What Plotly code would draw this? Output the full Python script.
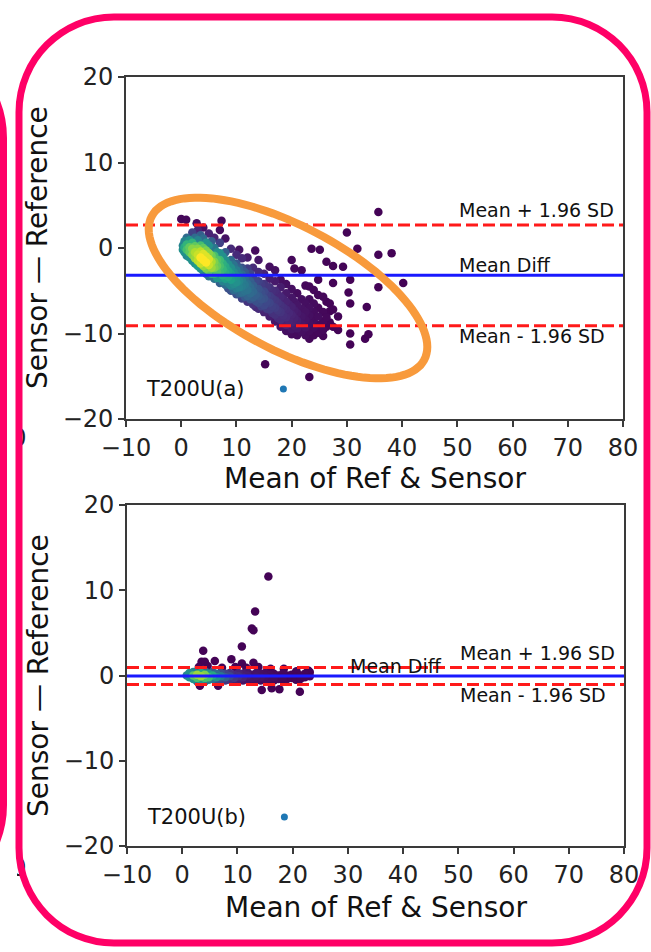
import numpy as np
import plotly.graph_objects as go

W, H = 651, 952
FONT = "DejaVu Sans"

# ---------------------------------------------------------------------------
# Panel (a): Bland-Altman points (mean of ref & sensor, sensor - reference)
# with the local point density used for colouring
# ---------------------------------------------------------------------------
a_mean = [
    0.0,
    0.3, 0.3,
    0.6, 0.6, 0.6,
    0.9,
    1.0, 1.0, 1.0, 1.0,
    1.5, 1.5, 1.5, 1.5,
    2.0, 2.0, 2.0, 2.0, 2.0,
    2.5, 2.5, 2.5, 2.5, 2.5,
    2.8,
    3.0, 3.0, 3.0, 3.0, 3.0, 3.0,
    3.5, 3.5, 3.5, 3.5, 3.5, 3.5,
    4.0, 4.0, 4.0, 4.0, 4.0, 4.0, 4.0,
    4.5, 4.5, 4.5, 4.5, 4.5, 4.5,
    5.0, 5.0, 5.0, 5.0, 5.0, 5.0, 5.0,
    5.5, 5.5, 5.5, 5.5, 5.5,
    6.0, 6.0, 6.0, 6.0, 6.0, 6.0, 6.0,
    6.5, 6.5, 6.5, 6.5, 6.5,
    7.0, 7.0, 7.0, 7.0, 7.0, 7.0, 7.0, 7.0,
    7.3,
    7.5, 7.5, 7.5, 7.5, 7.5,
    8.0, 8.0, 8.0, 8.0, 8.0, 8.0, 8.0,
    8.5, 8.5, 8.5, 8.5, 8.5,
    9.0, 9.0, 9.0, 9.0, 9.0, 9.0, 9.0,
    9.5, 9.5, 9.5, 9.5, 9.5,
    10.0, 10.0, 10.0, 10.0, 10.0, 10.0, 10.0,
    10.5, 10.5, 10.5, 10.5, 10.5, 10.5,
    11.0, 11.0, 11.0, 11.0, 11.0, 11.0, 11.0,
    11.5, 11.5, 11.5, 11.5, 11.5,
    12.0, 12.0, 12.0, 12.0, 12.0, 12.0, 12.0,
    12.5, 12.5, 12.5, 12.5, 12.5,
    13.0, 13.0, 13.0, 13.0, 13.0, 13.0,
    13.4,
    13.5, 13.5, 13.5, 13.5, 13.5,
    14.0, 14.0, 14.0, 14.0, 14.0, 14.0, 14.0,
    14.5, 14.5, 14.5, 14.5,
    15.0, 15.0, 15.0, 15.0, 15.0, 15.0,
    15.2,
    15.5, 15.5, 15.5, 15.5,
    16.0, 16.0, 16.0, 16.0, 16.0, 16.0, 16.0,
    16.5, 16.5, 16.5, 16.5,
    17.0, 17.0, 17.0, 17.0, 17.0, 17.0, 17.0,
    17.5, 17.5, 17.5, 17.5,
    18.0, 18.0, 18.0, 18.0, 18.0, 18.0, 18.0,
    18.5, 18.5, 18.5, 18.5,
    19.0, 19.0, 19.0, 19.0, 19.0, 19.0, 19.0,
    19.5, 19.5, 19.5,
    20.0, 20.0, 20.0, 20.0, 20.0, 20.0, 20.0, 20.0,
    20.5, 20.5, 20.5, 20.5, 20.5,
    21.0, 21.0, 21.0, 21.0, 21.0, 21.0,
    21.8, 21.8, 21.8, 21.8, 21.8, 21.8,
    22.5, 22.5, 22.5, 22.5, 22.5, 22.5,
    23.2, 23.2, 23.2, 23.2, 23.2, 23.2, 23.2, 23.2,
    23.6,
    24.0, 24.0, 24.0, 24.0, 24.0, 24.0,
    24.8, 24.8, 24.8, 24.8, 24.8, 24.8,
    25.1,
    25.7, 25.7, 25.7, 25.7, 25.7,
    26.3, 26.3, 26.3, 26.3,
    26.9, 26.9, 26.9,
    27.5, 27.5, 27.5, 27.5,
    28.4, 28.4,
    29.3,
    30.0,
    30.3,
    30.6, 30.6, 30.6, 30.6,
    31.9,
    33.3,
    33.6,
    33.9,
    35.7, 35.7, 35.7,
    38.1,
    40.2,
]

a_diff = [
    3.4,
    0.3, -0.2,
    0.8, 0.1, -0.5,
    3.3,
    1.2, 0.4, -0.2, -0.9,
    0.9, 0.1, -0.5, -1.1,
    1.8, 0.6, -0.1, -0.8, -1.5,
    1.2, 0.2, -0.5, -1.2, -1.8,
    2.9,
    2.1, 0.9, -0.1, -0.8, -1.5, -2.1,
    1.5, 0.3, -0.4, -1.1, -1.8, -2.4,
    2.4, 1.1, 0.0, -0.7, -1.4, -2.1, -2.7,
    0.6, -0.3, -1.0, -1.7, -2.4, -3.0,
    1.7, 0.3, -0.6, -1.3, -2.0, -2.7, -3.3,
    0.8, -0.9, -1.6, -2.3, -3.0,
    1.2, 0.0, -0.9, -1.6, -2.3, -3.0, -3.6,
    -0.5, -1.4, -2.1, -2.8, -3.5,
    2.1, 0.6, -0.6, -1.4, -2.1, -2.8, -3.5, -4.1,
    3.2,
    -1.0, -1.8, -2.5, -3.2, -3.9,
    1.1, -0.5, -1.4, -2.2, -2.9, -3.6, -4.3,
    -1.9, -2.7, -3.4, -4.1, -4.7,
    -0.1, -1.4, -2.3, -3.0, -3.7, -4.4, -5.0,
    -2.0, -2.8, -3.5, -4.2, -4.9,
    -0.8, -1.8, -2.6, -3.3, -4.0, -4.7, -5.4,
    -0.2, -2.4, -3.2, -3.9, -4.6, -5.3,
    -1.2, -2.3, -3.1, -3.8, -4.5, -5.2, -5.9,
    -2.8, -3.6, -4.3, -5.0, -5.7,
    -1.1, -2.4, -3.4, -4.2, -4.9, -5.6, -6.3,
    -3.0, -3.9, -4.6, -5.3, -6.0,
    -2.3, -3.5, -4.4, -5.1, -5.8, -6.6,
    -0.3,
    -3.9, -4.8, -5.5, -6.2, -6.9,
    -1.4, -2.8, -3.9, -4.8, -5.6, -6.4, -7.1,
    -4.3, -5.2, -6.0, -6.8,
    -3.0, -4.2, -5.1, -5.9, -6.7, -7.5,
    -13.6,
    -4.6, -5.5, -6.3, -7.1,
    -2.2, -3.6, -4.6, -5.6, -6.4, -7.2, -8.0,
    -5.0, -5.9, -6.8, -7.6,
    -2.6, -3.9, -5.0, -6.1, -7.0, -7.8, -8.6,
    -5.4, -6.4, -7.3, -8.2,
    -3.7, -4.6, -5.7, -6.7, -7.5, -8.4, -9.2,
    -6.0, -7.0, -7.9, -8.8,
    -4.2, -5.3, -6.3, -7.2, -8.1, -9.0, -9.7,
    -6.6, -7.6, -8.5,
    -1.4, -4.8, -5.8, -6.9, -7.8, -8.7, -9.5, -10.1,
    -2.4, -6.3, -7.3, -8.2, -9.1,
    -5.3, -6.7, -7.6, -8.5, -9.4, -10.2,
    -2.6, -6.0, -7.1, -8.0, -8.9, -9.8,
    -4.4, -6.5, -7.5, -8.4, -9.3, -10.2,
    -4.5, -6.0, -7.0, -7.9, -8.8, -9.7, -10.6, -15.1,
    -0.1,
    -4.9, -6.5, -7.5, -8.4, -9.3, -10.2,
    -3.7, -5.5, -7.0, -8.0, -9.0, -9.9,
    -0.2,
    -5.7, -7.5, -8.6, -9.6, -10.3,
    -1.6, -6.3, -8.1, -9.2,
    -6.5, -7.4, -8.7,
    -2.1, -4.1, -7.2, -9.2,
    -8.0, -9.6,
    -2.2,
    1.8,
    -5.2,
    -3.7, -6.5, -10.0, -11.3,
    -0.1,
    -10.6,
    -6.9,
    -10.1,
    4.2, -0.8, -4.6,
    -0.6,
    -4.1,
]

a_dens = [
    .02,
    .45, .5,
    .45, .6, .5,
    .02,
    .35, .65, .7, .45,
    .5, .75, .75, .5,
    .2, .65, .82, .82, .5,
    .35, .75, .88, .85, .5,
    .03,
    .1, .45, .82, .92, .9, .55,
    .3, .7, .9, 1.0, .92, .5,
    .05, .35, .75, .95, 1.0, .85, .45,
    .5, .8, .95, 1.0, .8, .4,
    .1, .5, .82, .95, .92, .75, .38,
    .3, .78, .88, .85, .65,
    .1, .4, .7, .8, .8, .65, .38,
    .5, .72, .76, .72, .52,
    .03, .2, .5, .68, .7, .68, .52, .3,
    .02,
    .5, .63, .66, .6, .45,
    .05, .3, .5, .6, .62, .55, .35,
    .5, .58, .58, .45, .25,
    .12, .35, .5, .55, .55, .45, .25,
    .38, .48, .52, .48, .35,
    .12, .28, .42, .5, .5, .42, .25,
    .05, .32, .42, .46, .44, .32,
    .12, .25, .36, .42, .42, .36, .2,
    .28, .36, .4, .38, .28,
    .08, .18, .3, .36, .38, .32, .15,
    .22, .3, .34, .34, .26,
    .12, .22, .3, .33, .3, .15,
    .03,
    .22, .28, .3, .25, .12,
    .06, .12, .2, .26, .28, .24, .12,
    .18, .24, .26, .2,
    .1, .16, .22, .25, .22, .1,
    .005,
    .16, .2, .22, .18,
    .04, .08, .14, .18, .21, .18, .08,
    .13, .17, .19, .14,
    .04, .07, .12, .16, .18, .14, .06,
    .11, .15, .16, .12,
    .04, .08, .11, .14, .15, .12, .05,
    .1, .13, .13, .09,
    .04, .07, .1, .12, .12, .09, .04,
    .09, .11, .1,
    .02, .04, .06, .09, .1, .09, .06, .03,
    .02, .06, .08, .09, .07,
    .03, .06, .07, .08, .06, .03,
    .02, .04, .05, .06, .06, .04,
    .02, .04, .05, .05, .05, .03,
    .02, .03, .04, .04, .04, .03, .02, .005,
    .01,
    .02, .03, .03, .03, .03, .02,
    .01, .02, .02, .03, .02, .02,
    .01,
    .02, .02, .02, .02, .01,
    .01, .01, .02, .01,
    .01, .01, .01,
    .01, .01, .01, .01,
    .01, .01,
    .01,
    .005,
    .005,
    .005, .005, .005, .005,
    .005,
    .005,
    .005,
    .005,
    .005, .005, .005,
    .005,
    .005,
]

# agreement statistics of panel (a)
a_mean_diff = -3.2
a_limit_upper = 2.7
a_limit_lower = -9.1

# ---------------------------------------------------------------------------
# Panel (b)
# ---------------------------------------------------------------------------
b_mean = [
    0.8,
    1.3, 1.3,
    2.0, 2.0, 2.0,
    2.7, 2.7, 2.7, 2.7,
    3.4, 3.4, 3.4,
    4.1, 4.1, 4.1, 4.1,
    4.8, 4.8, 4.8,
    5.5, 5.5, 5.5,
    6.2, 6.2, 6.2,
    7.0, 7.0, 7.0,
    7.8, 7.8, 7.8,
    8.6, 8.6, 8.6,
    9.4, 9.4, 9.4,
    10.2, 10.2, 10.2,
    11.0, 11.0, 11.0,
    11.8, 11.8, 11.8,
    12.6, 12.6, 12.6,
    13.4, 13.4, 13.4,
    14.2, 14.2, 14.2,
    15.0, 15.0, 15.0,
    15.8, 15.8, 15.8,
    16.6, 16.6, 16.6,
    17.4, 17.4,
    18.2, 18.2, 18.2,
    19.0, 19.0,
    19.8, 19.8,
    20.6, 20.6, 20.6,
    21.4, 21.4,
    22.2, 22.2,
    23.1, 23.1,
    15.6, 13.2, 12.6, 12.9, 10.8, 3.8, 3.5, 4.1, 5.9, 8.9, 10.8, 12.9,
    3.2, 6.5, 14.4, 16.2, 17.6, 21.3,
    3.0, 4.6, 7.2, 9.6, 11.6, 13.8, 16.0, 18.4, 20.7, 22.8,
]

b_diff = [
    0.0,
    0.3, -0.2,
    0.4, 0.0, -0.4,
    0.5, 0.1, -0.3, -0.7,
    0.3, -0.1, -0.5,
    0.5, 0.1, -0.3, -0.7,
    0.2, -0.2, -0.5,
    0.4, 0.0, -0.4,
    0.2, -0.2, -0.6,
    0.3, -0.1, -0.5,
    0.2, -0.2, -0.6,
    0.3, -0.1, -0.5,
    0.1, -0.3, -0.7,
    0.3, -0.1, -0.5,
    0.2, -0.2, -0.6,
    0.4, 0.0, -0.4,
    0.1, -0.3, -0.7,
    0.3, -0.1, -0.5,
    0.2, -0.2, -0.6,
    0.3, -0.1, -0.5,
    0.1, -0.3, -0.7,
    0.2, -0.2, -0.6,
    0.0, -0.4,
    0.2, -0.2, -0.5,
    0.0, -0.4,
    0.1, -0.3,
    0.4, -0.1, -0.5,
    0.0, -0.4,
    0.2, -0.2,
    0.4, -0.1,
    11.6, 7.5, 5.5, 5.3, 3.4, 2.9, 1.6, 1.6, 1.7, 1.9, 1.4, 1.5,
    -1.2, -1.2, -1.7, -1.5, -1.6, -1.9,
    1.0, 1.1, 0.9, 1.0, 0.9, 1.0, 0.8, 0.8, 0.5, 0.6,
]

b_dens = [
    .45,
    .5, .5,
    .45, .75, .5,
    .35, .85, .7, .3,
    .6, .85, .5,
    .35, .8, .7, .3,
    .5, .7, .4,
    .3, .6, .35,
    .35, .5, .22,
    .25, .4, .2,
    .2, .3, .15,
    .15, .22, .12,
    .12, .16, .08,
    .1, .13, .07,
    .08, .1, .05,
    .06, .08, .05,
    .05, .06, .04,
    .05, .06, .04,
    .04, .05, .03,
    .03, .04, .03,
    .03, .03, .02,
    .02, .03, .02,
    .02, .02,
    .02, .02, .01,
    .01, .01,
    .01, .01,
    .01, .01, .01,
    .01, .01,
    .01, .01,
    .005, .005,
    .005, .005, .005, .005, .005, .005, .005, .005, .005, .005, .005, .005,
    .005, .005, .005, .005, .005, .005,
    .005, .005, .005, .005, .005, .005, .005, .005, .005, .005,
]

b_mean_diff = -0.05
b_limit_upper = 0.95
b_limit_lower = -1.05

# axis ticks
x_ticks = [-10, 0, 10, 20, 30, 40, 50, 60, 70, 80]
x_ticklabels = ["\u221210", "0", "10", "20", "30", "40", "50", "60", "70", "80"]
y_ticks = [-20, -10, 0, 10, 20]
y_ticklabels = ["\u221220", "\u221210", "0", "10", "20"]

# legend key shown next to each panel name
panel_names = ["T200U(a)", "T200U(b)"]
key_mean = [18.5, 18.5]
key_diff = [-16.5, -16.6]

for arrs in ((a_mean, a_diff, a_dens), (b_mean, b_diff, b_dens)):
    if not (len(arrs[0]) == len(arrs[1]) == len(arrs[2])):
        raise ValueError("length mismatch: %s" % [len(a) for a in arrs])


def density_scatter(xs, ys, ds, xa, ya):
    xs, ys, ds = np.asarray(xs), np.asarray(ys), np.asarray(ds)
    order = np.argsort(ds, kind="stable")          # densest points on top
    return go.Scatter(
        x=xs[order], y=ys[order], mode="markers", xaxis=xa, yaxis=ya,
        marker=dict(size=8.5, color=ds[order], colorscale="Viridis",
                    cmin=0, cmax=1, line=dict(width=0)),
        hoverinfo="skip", showlegend=False,
    )


fig = go.Figure()
fig.add_trace(density_scatter(a_mean, a_diff, a_dens, "x", "y"))
fig.add_trace(density_scatter(b_mean, b_diff, b_dens, "x2", "y2"))
for i, (xa, ya) in enumerate((("x", "y"), ("x2", "y2"))):
    fig.add_trace(go.Scatter(
        x=[key_mean[i]], y=[key_diff[i]], mode="markers", xaxis=xa, yaxis=ya,
        marker=dict(size=7, color="#1f77b4"), hoverinfo="skip", showlegend=False))

# clipped tick label of the neighbouring panel on the left (pixel overlay axes)
fig.add_trace(go.Scatter(
    x=[19, 19], y=[440, 870], mode="text", text=["0", "0"], xaxis="x3", yaxis="y3",
    textfont=dict(family=FONT, size=24, color="#222"), hoverinfo="skip", showlegend=False))

axis_common = dict(
    showline=True, mirror=True, linecolor="#3a3a3a", linewidth=1.6,
    ticks="outside", ticklen=6, tickwidth=1.6, tickcolor="#3a3a3a",
    showgrid=False, zeroline=False, fixedrange=True, automargin=False,
    tickfont=dict(family=FONT, size=24, color="#222"),
)
xa_common = dict(axis_common, range=[-10, 80], tickvals=x_ticks, ticktext=x_ticklabels)
ya_common = dict(axis_common, range=[-20, 20], tickvals=y_ticks, ticktext=y_ticklabels)

shapes = []
annotations = []
panels = [
    ("x", "y", a_mean_diff, a_limit_upper, a_limit_lower, 50, 374.5, 478, 248),
    ("x2", "y2", b_mean_diff, b_limit_upper, b_limit_lower, 30, 375.5, 907, 676),
]
for i, (xa, ya, md, up, lo, diff_x, xt_x, xt_y, yt_y) in enumerate(panels):
    for val, col, dash in ((up, "#ff1a1a", "12px,5px"), (lo, "#ff1a1a", "12px,5px"),
                           (md, "#1a1aff", "solid")):
        shapes.append(dict(type="line", xref=f"{xa} domain", yref=ya, x0=0, x1=1,
                           y0=val, y1=val, layer="above",
                           line=dict(color=col, width=3, dash=dash)))
    tf = dict(family=FONT, size=19, color="#111")
    annotations += [
        dict(x=50, y=up, xref=xa, yref=ya, text="Mean + 1.96 SD", showarrow=False,
             xanchor="left", yanchor="middle", yshift=14.5, font=tf),
        dict(x=diff_x, y=md, xref=xa, yref=ya, text="Mean Diff", showarrow=False,
             xanchor="left", yanchor="middle", yshift=10, font=tf),
        dict(x=50, y=lo, xref=xa, yref=ya, text="Mean - 1.96 SD", showarrow=False,
             xanchor="left", yanchor="middle", yshift=-10.5, font=tf),
        dict(x=key_mean[i], y=key_diff[i], xref=xa, yref=ya, text=panel_names[i],
             showarrow=False, xanchor="right", yanchor="middle", xshift=-36,
             font=dict(family=FONT, size=21, color="#111")),
        dict(x=xt_x / W, y=1 - xt_y / H, xref="paper", yref="paper",
             text="Mean of Ref &amp; Sensor", showarrow=False,
             xanchor="center", yanchor="middle",
             font=dict(family=FONT, size=28, color="#111")),
        dict(x=38 / W, y=1 - yt_y / H, xref="paper", yref="paper",
             text="Sensor \u2014 Reference", showarrow=False, textangle=-90,
             xanchor="center", yanchor="middle",
             font=dict(family=FONT, size=28, color="#111")),
    ]


def rounded_rect(l, t, r, b, rad):
    k = 0.5523 * rad
    return (f"M {l+rad},{t} L {r-rad},{t} C {r-rad+k},{t} {r},{t+rad-k} {r},{t+rad} "
            f"L {r},{b-rad} C {r},{b-rad+k} {r-rad+k},{b} {r-rad},{b} "
            f"L {l+rad},{b} C {l+rad-k},{b} {l},{b-rad+k} {l},{b-rad} "
            f"L {l},{t+rad} C {l},{t+rad-k} {l+rad-k},{t} {l+rad},{t} Z")


# highlight ellipse around the proportional-bias band of panel (a)
cx, cy, ea, eb, rot = 288, 288, 154, 62, np.deg2rad(27.8)
tt = np.linspace(0, 2 * np.pi, 121)
ex = cx + ea * np.cos(tt) * np.cos(rot) - eb * np.sin(tt) * np.sin(rot)
ey = cy + ea * np.cos(tt) * np.sin(rot) + eb * np.sin(tt) * np.cos(rot)
ellipse_path = "M " + " L ".join(f"{x:.1f},{y:.1f}" for x, y in zip(ex, ey)) + " Z"

shapes += [
    dict(type="rect", xref="x3", yref="y3", x0=6, x1=17, y0=425, y1=455,
         fillcolor="white", line=dict(width=0), layer="above"),
    dict(type="rect", xref="x3", yref="y3", x0=6, x1=17, y0=855, y1=885,
         fillcolor="white", line=dict(width=0), layer="above"),
    dict(type="path", xref="x3", yref="y3", path=ellipse_path, layer="above",
         line=dict(color="#F89A3C", width=8)),
    dict(type="path", xref="x3", yref="y3", path=rounded_rect(19, 17, 647, 943, 95),
         layer="above", line=dict(color="#FF0066", width=7)),
    dict(type="path", xref="x3", yref="y3", path=rounded_rect(-400, 38, 3.5, 905, 100),
         layer="above", line=dict(color="#FF0066", width=7)),
]

fig.update_layout(
    template="none",
    width=W, height=H, margin=dict(l=0, r=0, t=0, b=0, pad=0), autosize=False,
    paper_bgcolor="white", plot_bgcolor="rgba(0,0,0,0)", showlegend=False,
    font=dict(family=FONT, color="#111"),
    xaxis=dict(xa_common, domain=[126 / W, 623 / W], anchor="y"),
    yaxis=dict(ya_common, domain=[1 - 419 / H, 1 - 77 / H], anchor="x"),
    xaxis2=dict(xa_common, domain=[127 / W, 624 / W], anchor="y2"),
    yaxis2=dict(ya_common, domain=[1 - 846 / H, 1 - 505 / H], anchor="x2"),
    xaxis3=dict(domain=[0, 1], anchor="y3", range=[0, W], visible=False,
                fixedrange=True, automargin=False),
    yaxis3=dict(domain=[0, 1], anchor="x3", range=[H, 0], visible=False,
                fixedrange=True, automargin=False),
    shapes=shapes, annotations=annotations,
)

fig.write_html("out.html")
